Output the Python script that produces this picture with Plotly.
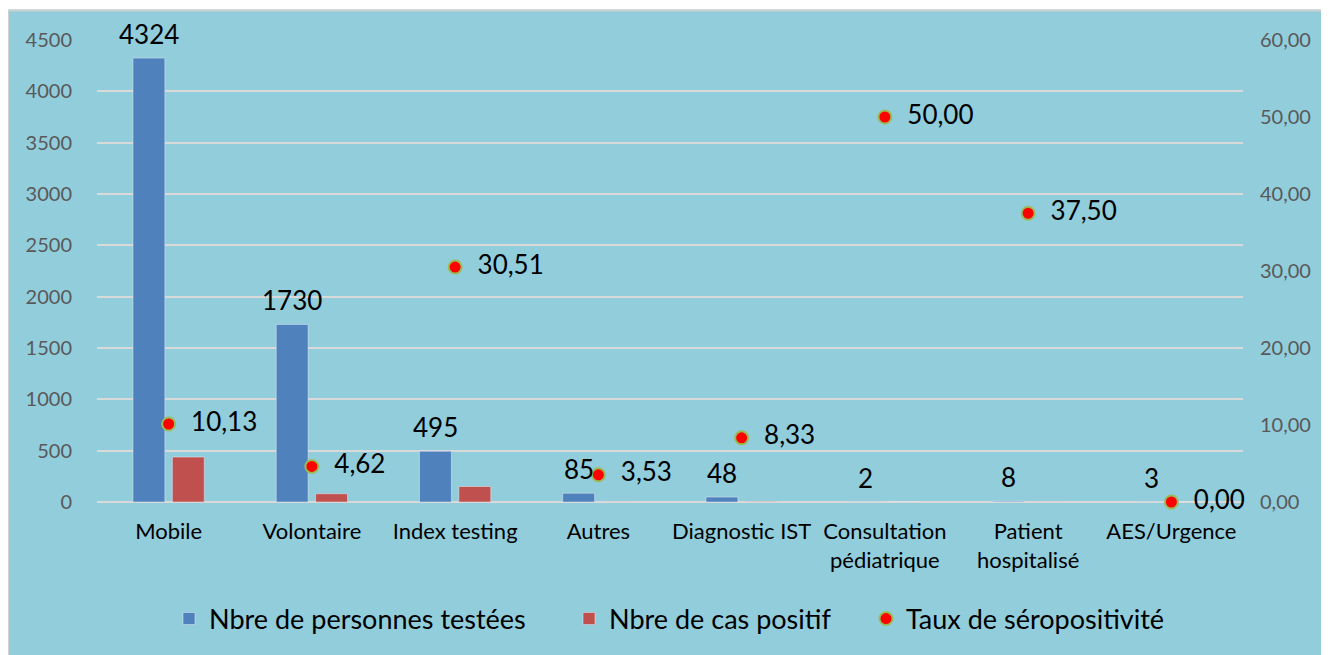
import plotly.graph_objects as go

categories = ["Mobile", "Volontaire", "Index testing", "Autres", "Diagnostic IST",
              "Consultation<br>pédiatrique", "Patient<br>hospitalisé", "AES/Urgence"]
tested = [4324, 1730, 495, 85, 48, 2, 8, 3]
positive = [438, 80, 151, 3, 4, 1, 3, 0]
rate = [10.13, 4.62, 30.51, 3.53, 8.33, 50.00, 37.50, 0.00]

# figure sits at page offset (8, 8) because of the default body margin
W, H = 1321, 647
L, R, T, B = 89, 1235, 32, 494
pw, ph = R - L, B - T

def px(x):
    return (x - L) / pw

def py(y):
    return (B - y) / ph

BG = "#92CDDC"
FONT = "Lato"
BARGAP = 0.45
GROUPGAP = 0.19
slot = (1 - BARGAP) / 2
blue_off = -slot / 2

fig = go.Figure()
fig.add_trace(go.Bar(
    x=categories, y=tested, name="Nbre de personnes testées",
    marker=dict(color="#4F81BD"), legendwidth=355,
))
fig.add_trace(go.Bar(
    x=categories, y=positive, name="Nbre de cas positif",
    marker=dict(color="#C0504D"), legendwidth=252,
))
fig.add_trace(go.Scatter(
    x=categories, y=rate, name="Taux de séropositivité", yaxis="y2",
    mode="markers+text", legendwidth=260,
    marker=dict(color="#FF0000", size=13, line=dict(color="#9BBB59", width=2)),
    text=["  " + f"{v:.2f}".replace(".", ",") for v in rate],
    textposition="middle right",
    textfont=dict(size=26, color="black", family=FONT),
    cliponaxis=False,
))

annotations = [
    dict(x=i + blue_off, y=v, xref="x", yref="y", text=str(v), showarrow=False,
         yanchor="bottom", yshift=6, font=dict(size=26, color="black", family=FONT))
    for i, v in enumerate(tested)
]

fig.update_layout(
    width=W, height=H,
    margin=dict(l=L, r=W - R, t=T, b=H - B),
    paper_bgcolor=BG, plot_bgcolor=BG,
    font=dict(family=FONT, color="black"),
    barmode="group", bargap=BARGAP, bargroupgap=GROUPGAP,
    separators=", ",
    showlegend=True,
    legend=dict(orientation="h", x=0.5, xanchor="center", y=py(611), yanchor="middle",
                font=dict(size=27, color="black", family=FONT),
                bgcolor="rgba(0,0,0,0)", traceorder="normal"),
    xaxis=dict(showgrid=False, showline=False, zeroline=False,
               tickfont=dict(size=22, color="black", family=FONT),
               ticks="outside", ticklen=10, tickcolor="rgba(0,0,0,0)"),
    yaxis=dict(range=[0, 4500], dtick=500, tickformat="d",
               showgrid=True, gridcolor="#D9D9D9", gridwidth=2,
               zeroline=True, zerolinecolor="#D9D9D9", zerolinewidth=2,
               tickfont=dict(size=20, color="#595959", family=FONT),
               ticks="outside", ticklen=20, tickcolor="rgba(0,0,0,0)"),
    yaxis2=dict(range=[0, 60], dtick=10, tickformat=".2f", overlaying="y", side="right",
                showgrid=False, zeroline=False, showline=False,
                tickfont=dict(size=20, color="#595959", family=FONT),
                ticks="outside", ticklen=12, tickcolor="rgba(0,0,0,0)"),
    annotations=annotations,
    shapes=[
        dict(type="rect", xref="paper", yref="paper", x0=px(-20), x1=px(W + 20),
             y0=py(1.5), y1=py(-20), fillcolor="white", line=dict(width=0), layer="above"),
        dict(type="line", xref="paper", yref="paper", x0=px(0), x1=px(W + 20),
             y0=py(2.5), y1=py(2.5), line=dict(color="#D0D0D0", width=2), layer="above"),
        dict(type="line", xref="paper", yref="paper", x0=px(0), x1=px(0),
             y0=py(2.5), y1=py(H + 20), line=dict(color="#D0D0D0", width=2), layer="above"),
    ],
)

fig.write_html("out.html")
